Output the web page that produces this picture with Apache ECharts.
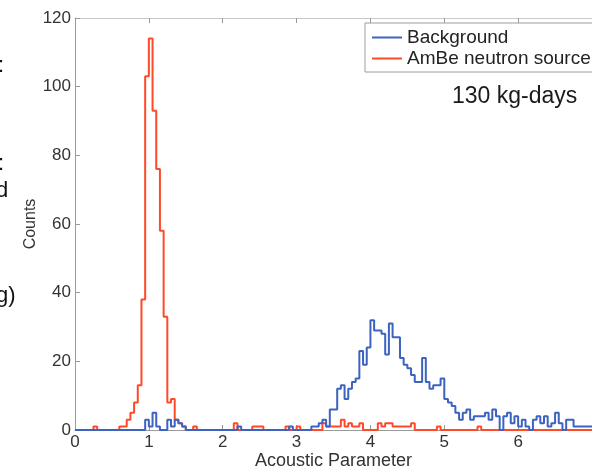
<!DOCTYPE html>
<html>
<head>
<meta charset="utf-8">
<script src="https://cdn.jsdelivr.net/npm/echarts@6/dist/echarts.min.js"></script>
<style>
  html, body { margin: 0; padding: 0; background: #fff; }
  #chart { width: 592px; height: 469px; }
</style>
</head>
<body>
<div id="chart"></div>
<script>
// Histogram binning: 140 bins of width 0.05 covering 0 .. 7
const binStart = 0;
const binWidth = 0.05;

// Counts per bin, one row per unit of the acoustic parameter
const backgroundCounts = [
  0, 0, 0, 0, 0, 0, 0, 0, 0, 0, 0, 0, 0, 0, 0, 0, 0, 0, 0, 3,
  1, 5, 1, 0, 0, 3, 1, 3, 2, 1, 0, 0, 0, 0, 0, 0, 0, 0, 0, 0,
  0, 0, 0, 0, 1, 0, 0, 0, 0, 0, 0, 0, 0, 0, 0, 0, 0, 0, 1, 0,
  0, 0, 0, 0, 1, 1, 2, 3, 1, 6, 6, 12, 13, 9, 12, 14, 15, 23, 19, 24,
  32, 29, 29, 28, 22, 31, 27, 27, 21, 19, 18, 16, 14, 14, 21, 14, 12, 13, 13, 15,
  9, 8, 7, 5, 3, 5, 6, 3, 4, 4, 4, 5, 3, 6, 4, 0, 4, 5, 2, 4,
  1, 3, 1, 0, 3, 4, 2, 4, 1, 2, 5, 2, 0, 3, 3, 1, 1, 1, 1, 1
];

const ambeCounts = [
  0, 0, 0, 0, 0, 1, 0, 0, 0, 0, 0, 0, 1, 1, 3, 5, 8, 13, 38, 103,
  114, 93, 76, 58, 33, 8, 9, 3, 2, 1, 0, 0, 1, 0, 0, 0, 0, 0, 0, 0,
  0, 0, 0, 2, 0, 0, 0, 0, 1, 1, 1, 0, 0, 0, 0, 0, 0, 1, 0, 0,
  1, 0, 0, 0, 0, 0, 0, 2, 1, 1, 1, 1, 3, 1, 2, 1, 1, 2, 0, 0,
  0, 0, 2, 1, 2, 2, 1, 1, 1, 1, 1, 2, 0, 0, 0, 0, 0, 0, 1, 0,
  0, 0, 0, 0, 0, 0, 0, 0, 0, 1, 0, 0, 0, 0, 0, 0, 0, 0, 0, 0,
  0, 0, 0, 0, 0, 0, 0, 0, 0, 0, 0, 0, 0, 0, 0, 0, 0, 0, 0, 0
];

const seriesNames = ['Background', 'AmBe neutron source'];
const xTickLabels = ['0', '1', '2', '3', '4', '5', '6'];
const yTickLabels = ['0', '20', '40', '60', '80', '100', '120'];

// Turn bin counts into the outline of a stairs histogram
function stairs(counts) {
  const pts = [];
  counts.forEach((c, i) => {
    const x0 = binStart + i * binWidth;
    pts.push([x0, c], [x0 + binWidth, c]);
  });
  return pts;
}

const FONT = '"Liberation Sans", Arial, Helvetica, sans-serif';
const BLUE = '#3d63c0';
const RED = '#ff4a2a';
const AXIS = '#9a9a9a';

const chart = echarts.init(document.getElementById('chart'), null, { renderer: 'canvas' });
chart.setOption({
  animation: false,
  backgroundColor: '#fff',
  grid: { left: 75, right: 0, top: 18, bottom: 39, containLabel: false, outerBoundsMode: 'none' },
  legend: {
    data: seriesNames,
    orient: 'vertical',
    left: 365,
    top: 23,
    icon: 'rect',
    itemWidth: 30,
    itemHeight: 2,
    itemGap: 2,
    padding: [5, 60, 4, 7],
    backgroundColor: '#fff',
    borderColor: '#9c9c9c',
    borderWidth: 1,
    textStyle: { fontFamily: FONT, fontSize: 19, color: '#222', lineHeight: 19 }
  },
  xAxis: [
    {
      type: 'value', min: 0, max: 7, interval: 1,
      name: 'Acoustic Parameter', nameLocation: 'middle', nameGap: 22, nameMoveOverlap: false,
      nameTextStyle: { fontFamily: FONT, fontSize: 18, color: '#333' },
      axisLine: { show: true, lineStyle: { color: AXIS, width: 1 } },
      axisTick: { show: true, inside: true, length: 5, lineStyle: { color: AXIS } },
      axisLabel: {
        fontFamily: FONT, fontSize: 17, color: '#333', margin: 4,
        formatter: v => xTickLabels[Math.round(v)] ?? ''
      },
      splitLine: { show: false }
    },
    {
      type: 'value', min: 0, max: 7, interval: 1, position: 'top',
      axisLine: { show: true, lineStyle: { color: '#c8c8c8', width: 1 } },
      axisTick: { show: true, inside: true, length: 5, lineStyle: { color: AXIS } },
      axisLabel: { show: false },
      splitLine: { show: false }
    }
  ],
  yAxis: {
    type: 'value', min: 0, max: 120, interval: 20,
    name: 'Counts', nameLocation: 'middle', nameGap: 36, nameRotate: 90, nameMoveOverlap: false,
    nameTextStyle: { fontFamily: FONT, fontSize: 16, color: '#333' },
    axisLine: { show: true, lineStyle: { color: AXIS, width: 1 } },
    axisTick: { show: true, inside: true, length: 5, lineStyle: { color: AXIS } },
    axisLabel: {
      fontFamily: FONT, fontSize: 17, color: '#333', margin: 4,
      formatter: v => yTickLabels[Math.round(v / 20)] ?? ''
    },
    splitLine: { show: false }
  },
  series: [
    {
      name: seriesNames[1], type: 'line', data: stairs(ambeCounts),
      showSymbol: false, symbol: 'none', clip: true,
      lineStyle: { color: RED, width: 2 }, itemStyle: { color: RED }, z: 2
    },
    {
      name: seriesNames[0], type: 'line', data: stairs(backgroundCounts),
      showSymbol: false, symbol: 'none', clip: true,
      lineStyle: { color: BLUE, width: 2 }, itemStyle: { color: BLUE }, z: 3
    }
  ],
  graphic: [
    { type: 'text', left: 452, top: 85,
      style: { text: '130 kg-days', font: '23px ' + FONT, fill: '#1a1a1a' } },
    // fragments of the neighbouring page text at the left margin
    { type: 'text', left: -2, top: 55, style: { text: ':', font: '22px ' + FONT, fill: '#111' } },
    { type: 'text', left: -2, top: 153, style: { text: ':', font: '22px ' + FONT, fill: '#111' } },
    { type: 'text', left: -4, top: 180, style: { text: 'd', font: '22px ' + FONT, fill: '#111' } },
    { type: 'text', left: -4, top: 285, style: { text: 'g)', font: '22px ' + FONT, fill: '#111' } }
  ]
});
</script>
</body>
</html>
